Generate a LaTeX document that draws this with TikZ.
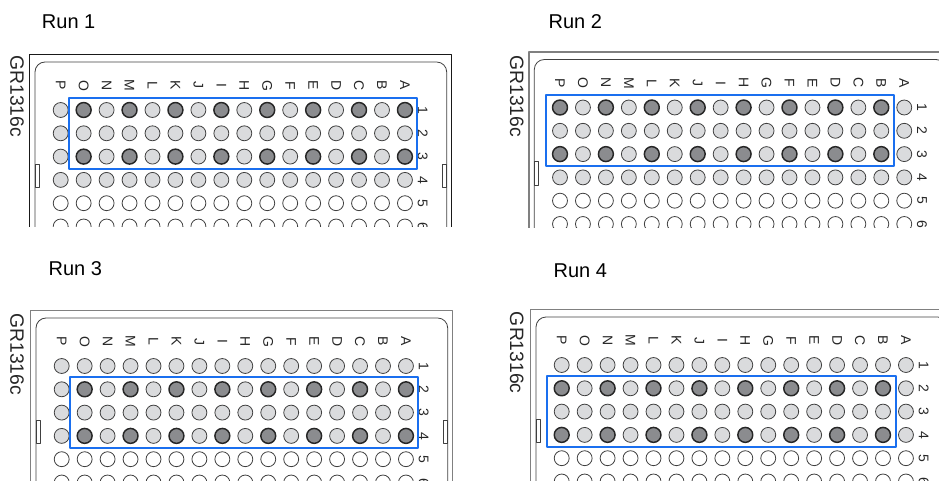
\documentclass[tikz,border=0pt]{standalone}
\usepackage{fontspec}
\setmainfont{Liberation Sans}
\definecolor{wellgray}{HTML}{DADBDD}
\definecolor{welldarkgray}{HTML}{8B8C8F}
\definecolor{runblue}{HTML}{1A6FEF}

% #1,#2 well P1, #3 border colour, #4 first marked row, #5 marked column parity,
% #6 right crop, #7 bottom crop, #8 name
\newcommand{\drawplate}[8]{%
\begin{scope}[shift={(#1,#2)}]
  \begin{scope}
    \clip (-40,-75) rectangle (#6,#7);
    \draw[draw=#3,line width=0.9pt] (-31,{#7+5}) -- (-31,-55.5) -- (390.5,-55.5) -- (390.5,{#7+5});
    \draw[draw=black!75,line width=0.6pt,rounded corners=7.5pt] (-25.7,{#7+5}) -- (-25.7,-48) -- (386,-48) -- (386,{#7+5});
    \draw[draw=black!75,line width=0.6pt] (-25.7,54) rectangle (-21.2,77.5);
    \draw[draw=black!75,line width=0.6pt] (386,54) rectangle (381.3,77.5);
    \foreach \r in {1,...,6}{
      \foreach \c in {0,...,15}{
        \pgfmathtruncatemacro\wk{\r>4 ? 0 : (and(or(\r==#4,\r==#4+2),mod(\c,2)==#5) ? 2 : 1)}
        \ifcase\wk \def\wellstyle{wellempty}\or \def\wellstyle{welllight}\or \def\wellstyle{welldark}\fi
        \draw[\wellstyle] ({\c*22.95},{(\r-1)*23.3}) circle (5.6pt);
      }
      \node[idxlabel] (row-#8-\r) at (362,{(\r-1)*23.3}) {\r};
    }
    \foreach \l [count=\i from 0] in {P,O,N,M,L,K,J,I,H,G,F,E,D,C,B,A}
      \node[idxlabel] (col-#8-\l) at ({\i*22.95},-24.5) {\l};
  \end{scope}
  \draw[draw=runblue,line width=1.5pt] ({#5*22.95-14.5},{(#4-1)*23.3-12}) rectangle ({#5*22.95+333.8},{(#4+1)*23.3+12});
\end{scope}}

\begin{document}
\begin{tikzpicture}[x=0.75pt,y=-0.75pt,line join=round,
  welldark/.style={draw=black!85,fill=welldarkgray,line width=1.1pt},
  welllight/.style={draw=black!75,fill=wellgray,line width=0.6pt},
  wellempty/.style={draw=black!75,fill=white,line width=0.6pt},
  runlabel/.style={anchor=west,inner sep=0pt,font=\fontsize{15}{18}\selectfont},
  platelabel/.style={anchor=west,rotate=-90,inner sep=0pt,text=black!85,font=\fontsize{14.5}{17}\selectfont},
  idxlabel/.style={rotate=-90,inner sep=0pt,text=black!85,font=\fontsize{10.5}{12}\selectfont}]
\useasboundingbox (0,0) rectangle (939,481);

\node[runlabel] (run1) at (41.7,21.7) {Run 1};
\node[runlabel] (run2) at (548.3,21.7) {Run 2};
\node[runlabel] (run3) at (48.3,268.3) {Run 3};
\node[runlabel] (run4) at (553.3,270.7) {Run 4};

\node[platelabel] (id1) at (17,55) {GR1316c};
\node[platelabel] (id2) at (516.7,55) {GR1316c};
\node[platelabel] (id3) at (17,313) {GR1316c};
\node[platelabel] (id4) at (516.7,311.7) {GR1316c};

\drawplate{60.7}{110}{black!90}{1}{1}{392}{117}{a}
\drawplate{560}{107.5}{black!50}{1}{0}{379}{120}{b}
\drawplate{61.7}{366}{black!50}{2}{1}{392}{115}{c}
\drawplate{561.7}{365}{black!50}{2}{0}{377.3}{116}{d}
\end{tikzpicture}
\end{document}
